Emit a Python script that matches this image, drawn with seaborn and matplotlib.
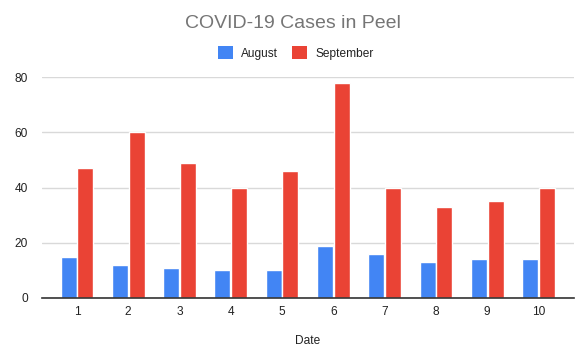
import matplotlib
matplotlib.use("Agg")
import matplotlib.pyplot as plt
import seaborn as sns
import pandas as pd
from matplotlib.patches import Patch

dates = ["1", "2", "3", "4", "5", "6", "7", "8", "9", "10"]
august = [15, 12, 11, 10, 10, 19, 16, 13, 14, 14]
september = [47, 60, 49, 40, 46, 78, 40, 33, 35, 40]
series_names = ["August", "September"]
colors = ["#4285F4", "#EA4335"]

df = pd.DataFrame({
    "Date": dates * 2,
    "Cases": august + september,
    "Month": [series_names[0]] * len(dates) + [series_names[1]] * len(dates),
})

sns.set_theme(style="white")
plt.rcParams["font.family"] = ["Liberation Sans", "DejaVu Sans"]

fig = plt.figure(figsize=(5.86, 3.59), dpi=100)
ax = fig.add_axes([42 / 586, 1 - 298 / 359, (574 - 42) / 586, (298 - 77) / 359])

sns.barplot(data=df, x="Date", y="Cases", hue="Month", order=dates,
            hue_order=series_names, palette=colors, width=0.65, gap=0.04,
            saturation=1, ax=ax, legend=False)

ax.set_xlim(-0.68, 9.69)
ax.set_ylim(0, 80)
ax.set_yticks([0, 20, 40, 60, 80])
ax.grid(axis="y", color="#d9d9d9", linewidth=1)
ax.set_axisbelow(True)
for s in ["top", "right", "left"]:
    ax.spines[s].set_visible(False)
ax.spines["bottom"].set_color("#333333")
ax.spines["bottom"].set_linewidth(1.2)
ax.tick_params(axis="both", length=0, labelsize=8.6, labelcolor="#222222")
ax.tick_params(axis="x", pad=6)
ax.tick_params(axis="y", pad=10)
ax.set_ylabel("")
ax.set_xlabel("Date", fontsize=8.6, color="#222222", labelpad=12)

fig.text(0.5, 1 - 24 / 359, "COVID-19 Cases in Peel", ha="center", va="center",
         fontsize=14, color="#757575")

handles = [Patch(facecolor=c, edgecolor="none") for c in colors]
fig.legend(handles, series_names, loc="center", bbox_to_anchor=(0.505, 1 - 53 / 359),
           ncol=2, frameon=False, fontsize=8.6, handlelength=1.2, handleheight=1.2,
           columnspacing=1.2, handletextpad=0.7, labelcolor="#222222")

fig.savefig("out.png", dpi=100)
